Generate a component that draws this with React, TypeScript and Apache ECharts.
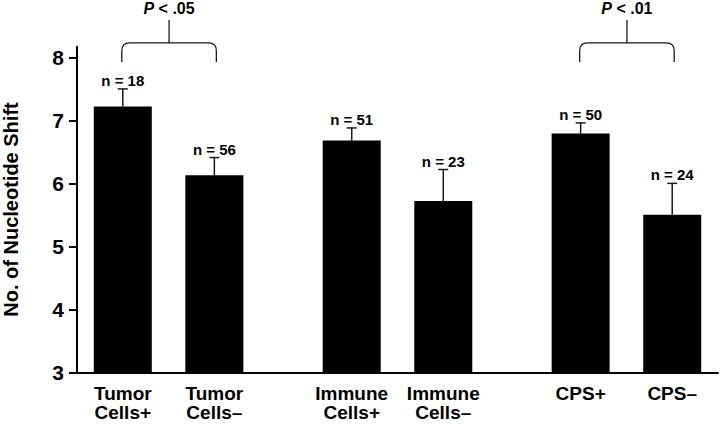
import React, { useEffect, useRef } from "react";
import * as echarts from "echarts";

// ---- data ----
const categories = ["Tumor\nCells+", "Tumor\nCells–", "Immune\nCells+", "Immune\nCells–", "CPS+", "CPS–"];
const means = [7.22, 6.13, 6.68, 5.72, 6.79, 5.5];
const errorTops = [7.5, 6.41, 6.88, 6.22, 6.96, 6.0];
const sampleSizes = [18, 56, 51, 23, 50, 24];
const comparisonFrom = [0, 4];
const comparisonTo = [1, 5];
const comparisonLabels = ["< .05", "< .01"];
const yTicks = [3, 4, 5, 6, 7, 8];

// ---- layout (slot of each bar on an evenly spaced category axis) ----
const slots = [1, 3, 6, 8, 11, 13];
const SLOT_COUNT = 15;
const FONT = "Liberation Sans";

export default function App() {
  const ref = useRef<HTMLDivElement>(null);

  useEffect(() => {
    if (!ref.current) return;
    const chart = echarts.init(ref.current, null, { renderer: "svg" });

    const axisCats: string[] = new Array(SLOT_COUNT).fill("");
    const barData: (number | null)[] = new Array(SLOT_COUNT).fill(null);
    slots.forEach((s, i) => {
      axisCats[s] = categories[i];
      barData[s] = means[i];
    });

    const errData = slots.map((s, i) => [s, means[i], errorTops[i], sampleSizes[i]]);
    const bracketData = comparisonFrom.map((a, i) => [slots[a], 8, slots[comparisonTo[i]], i]);

    chart.setOption({
      animation: false,
      grid: { left: 77, right: 3, top: 46.7, bottom: 51.7, containLabel: false, outerBoundsMode: "none" },
      xAxis: {
        type: "category",
        data: axisCats,
        boundaryGap: false,
        axisLine: { show: true, lineStyle: { color: "#000", width: 2 } },
        axisTick: { show: false },
        splitLine: { show: false },
        axisLabel: {
          interval: 0,
          color: "#000",
          fontFamily: FONT,
          fontWeight: "bold",
          fontSize: 19,
          lineHeight: 19,
          margin: 12,
        },
      },
      yAxis: {
        type: "value",
        min: 3,
        max: 8.17,
        name: "No. of Nucleotide Shift",
        nameLocation: "middle",
        nameGap: 56,
        nameTextStyle: { color: "#000", fontFamily: FONT, fontWeight: "bold", fontSize: 20 },
        axisLine: { show: true, lineStyle: { color: "#000", width: 2 } },
        axisTick: { show: true, customValues: yTicks, length: 8, lineStyle: { color: "#000", width: 2 } },
        splitLine: { show: false },
        axisLabel: {
          customValues: yTicks,
          color: "#000",
          fontFamily: FONT,
          fontWeight: "bold",
          fontSize: 21,
          margin: 13,
        },
      },
      series: [
        {
          type: "bar",
          data: barData,
          barWidth: 58,
          itemStyle: { color: "#000" },
          silent: true,
        },
        {
          type: "custom",
          data: errData,
          encode: { x: 0, y: 1 },
          clip: false,
          silent: true,
          renderItem: (params: any, api: any) => {
            const x = api.value(0);
            const m = api.value(1);
            const t = api.value(2);
            const n = api.value(3);
            const p0 = api.coord([x, m]);
            const p1 = api.coord([x, t]);
            const st = { stroke: "#1a1a1a", lineWidth: 1.5 };
            return {
              type: "group",
              children: [
                { type: "line", shape: { x1: p0[0], y1: p0[1], x2: p1[0], y2: p1[1] }, style: st },
                { type: "line", shape: { x1: p1[0] - 5, y1: p1[1], x2: p1[0] + 5, y2: p1[1] }, style: st },
                {
                  type: "text",
                  x: p1[0],
                  y: p1[1] - 1,
                  style: {
                    text: "n = " + n,
                    fill: "#000",
                    fontFamily: FONT,
                    fontWeight: "bold",
                    fontSize: 15,
                    align: "center",
                    verticalAlign: "bottom",
                    textAlign: "center",
                    textVerticalAlign: "bottom",
                  },
                },
              ],
            };
          },
        },
        {
          type: "custom",
          data: bracketData,
          encode: { x: 0, y: 1 },
          clip: false,
          silent: true,
          renderItem: (params: any, api: any) => {
            const a = api.value(0);
            const ref8 = api.value(1);
            const b = api.value(2);
            const idx = api.value(3);
            const pa = api.coord([a, ref8]);
            const pb = api.coord([b, ref8]);
            const xa = pa[0] - 1;
            const xb = pb[0] + 2;
            const y8 = pa[1];
            const yb = y8 + 4.5;
            const yh = y8 - 14.5;
            const ys = y8 - 37.5;
            const xm = (xa + xb) / 2;
            const r = 8;
            const d =
              `M${xa},${yb} L${xa},${yh + r} Q${xa},${yh} ${xa + r},${yh} ` +
              `L${xb - r},${yh} Q${xb},${yh} ${xb},${yh + r} L${xb},${yb} ` +
              `M${xm},${yh} L${xm},${ys}`;
            return {
              type: "group",
              children: [
                {
                  type: "path",
                  shape: { pathData: d },
                  style: { stroke: "#1a1a1a", lineWidth: 1.3, fill: null },
                },
                {
                  type: "text",
                  x: xm,
                  y: y8 - 49,
                  style: {
                    text: "{i|P} {b|" + comparisonLabels[idx] + "}",
                    rich: {
                      i: { fontFamily: FONT, fontWeight: "bold", fontStyle: "italic", fontSize: 16, fill: "#000" },
                      b: { fontFamily: FONT, fontWeight: "bold", fontSize: 16, fill: "#000" },
                    },
                    fontFamily: FONT,
                    fontWeight: "bold",
                    fontSize: 16,
                    fill: "#000",
                    align: "center",
                    verticalAlign: "middle",
                    textAlign: "center",
                    textVerticalAlign: "middle",
                  },
                },
              ],
            };
          },
        },
      ],
    });

    return () => chart.dispose();
  }, []);

  return (
    <div
      ref={ref}
      style={{ position: "fixed", left: 0, top: 0, width: 721, height: 424, background: "#fff" }}
    />
  );
}
